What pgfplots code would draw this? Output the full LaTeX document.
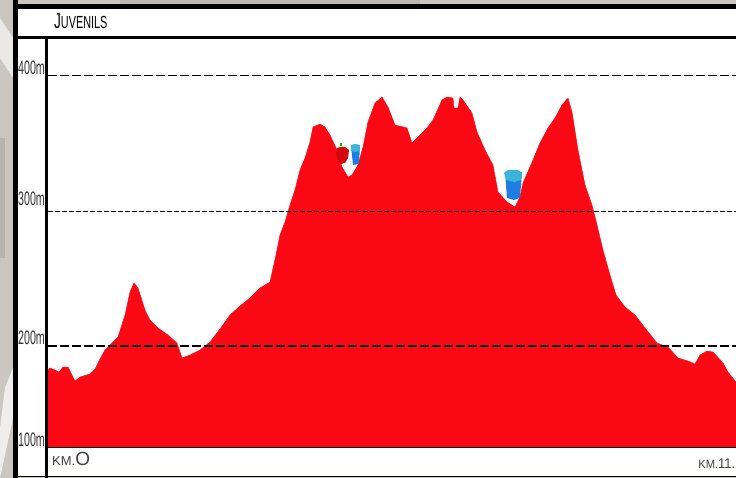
\documentclass[border=0pt]{standalone}
\usepackage{pgfplots}
\pgfplotsset{compat=1.18}
\usepackage{fontspec}
\setmainfont{Liberation Sans}
\definecolor{stone}{RGB}{203,199,192}
\definecolor{stoned}{RGB}{165,160,150}
\definecolor{prof}{RGB}{250,8,20}
\definecolor{cupb}{RGB}{30,125,225}
\definecolor{cupl}{RGB}{60,180,215}
\pgfkeys{/pgfplots/table/pxy/.style={/pgfplots/table/x expr=(\thisrow{px}-48)/60, /pgfplots/table/y expr=200+(346-\thisrow{py})/1.35}}
\begin{document}
\begin{tikzpicture}[x=1pt,y=1pt]
\clip (0,0) rectangle (736,478);
% stone background and white panel
\fill[stone] (0,0) rectangle (736,478);
\fill[stoned!50!stone] (0,220) rectangle (5,340);
\fill[white!70!stone] (0,0) -- (13,60) -- (13,110) -- (5,90) -- (0,50) -- cycle;
\fill[white!60!stone] (0,420) -- (13,400) -- (13,440) -- (0,460) -- cycle;
\fill[stoned!40!stone] (120,474) rectangle (420,478);
\fill[white] (15,2) rectangle (736,473);
\begin{axis}[
  at={(48pt,31pt)}, anchor=south west,
  scale only axis, width=688pt, height=408pt,
  xmin=0, xmax=11.4667, ymin=125.2, ymax=427.4,
  axis lines=none, clip=true,
  ytick=\empty, xtick=\empty,
]
\addplot[fill=prof,draw=prof,line width=0.4pt] table[pxy] {
px py
48 447
48 370
50 368
55 370
59 372
63 367
68 367
72 375
75 381
80 377
90 374
95 369
100 359
105 350
110 345
118 337
125 315
130 292
134 283
138 288
145 310
150 320
158 328
168 335
177 343
182 358
190 355
200 350
210 342
220 329
230 315
240 306
250 298
260 288
270 282
276 255
280 235
285 222
290 205
295 190
300 170
305 158
310 142
313 127
320 124
325 127
330 135
337 150
342 167
348 177
352 175
358 165
363 147
368 122
375 103
382 97
388 107
395 125
407 128
412 143
427 128
433 120
442 100
447 97
453 98
454 108
458 108
460 97
463 100
472 113
477 132
485 150
493 165
498 192
507 202
515 207
520 197
523 183
533 160
540 143
548 128
555 118
562 105
568 98
572 112
578 150
585 185
592 205
597 225
603 250
610 275
616 295
625 307
635 315
645 328
657 343
668 347
678 358
688 361
695 364
700 355
707 351
713 352
723 363
728 372
736 382
736 447
};
% apple
\addplot[fill=prof!85!black,draw=none] table[pxy] {
px py
337 148
341 147
345 147
349 150
348 158
345 163
341 164
338 160
336 154
337 148
};
\addplot[fill=green!75!black,draw=none] table[pxy] {
px py
340 143
342 143
342 146
340 146
340 143
};
% small cup
\addplot[fill=cupb,draw=none] table[pxy] {
px py
351 146
360 146
359 164
353 165
351 146
};
\addplot[fill=cupl,draw=none] table[pxy] {
px py
351 145
355 144
360 145
360 151
355 152
351 151
351 145
};
% large cup
\addplot[fill=cupb,draw=none] table[pxy] {
px py
505 172
522 172
520 198
514 200
507 198
505 172
};
\addplot[fill=cupl,draw=none] table[pxy] {
px py
504 173
508 170
518 170
522 173
521 180
514 182
506 180
504 173
};
% reference lines
\addplot[black,line width=1pt,dash pattern=on 9pt off 3pt] coordinates {(0,400) (11.4667,400)};
\addplot[black,line width=0.7pt,dash pattern=on 5pt off 2pt] coordinates {(0,300) (11.4667,300)};
\addplot[black,line width=1.6pt,dash pattern=on 9pt off 3pt] coordinates {(0,200) (11.4667,200)};
\end{axis}
% frame
\draw[black,line width=5pt] (15,478) -- (15,0);
\draw[black,line width=5pt] (13,471) -- (736,471);
\draw[black,line width=3pt] (15,440) -- (736,440);
\draw[black,line width=3pt] (46.5,441) -- (46.5,0);
\draw[black,line width=0.8pt] (46.5,31) -- (736,31);
\draw[black,line width=1.2pt] (15,1.5) -- (736,1.5);
% text
\node[anchor=base west,xscale=0.62,inner sep=0pt] at (54,449) {\fontsize{22}{22}\selectfont J\fontsize{17.5}{17.5}\selectfont UVENILS};
\foreach \t/\y in {400m/410,300m/279,200m/140,100m/38}
  \node[anchor=east,xscale=0.82,yscale=1.5,text=black!80,inner sep=0pt] at (45,\y) {\fontsize{13}{13}\selectfont\t};
\node[anchor=base west,text=black!75,inner sep=0pt] at (52,12) {\fontsize{13}{13}\selectfont KM.\fontsize{19}{19}\selectfont O};
\node[anchor=base east,xscale=0.93,text=black!75,inner sep=0pt] at (735.5,9) {\fontsize{12}{12}\selectfont KM.\fontsize{14}{14}\selectfont 11.};
\end{tikzpicture}
\end{document}
